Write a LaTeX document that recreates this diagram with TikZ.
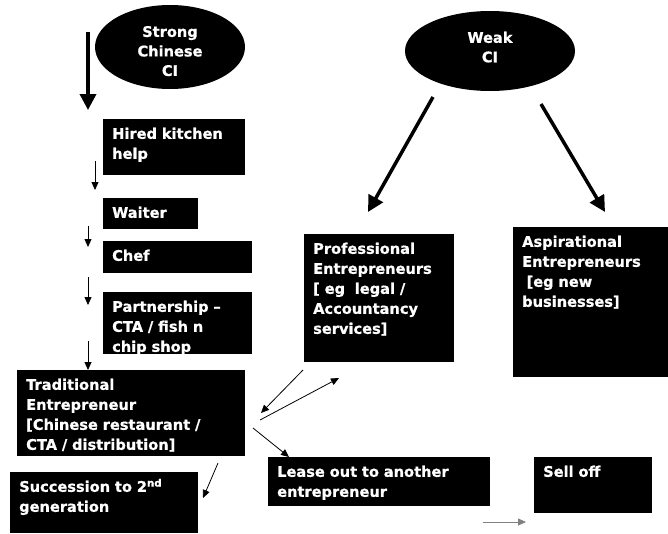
\documentclass[tikz,border=0pt]{standalone}
\usepackage{fontspec}
\setmainfont{DejaVu Sans}[BoldFeatures={FakeBold=0.8}]
\usetikzlibrary{shapes.geometric,arrows.meta}
\tikzset{
  blk/.style={fill=black, text=white, anchor=north west, align=left,
    inner xsep=9pt, inner ysep=0pt, text height=19.6pt,
    font=\bfseries\fontsize{14.6}{20}\selectfont},
  ell/.style={ellipse, fill=black, text=white, align=center, inner sep=0pt,
    font=\bfseries\fontsize{14.6}{19.5}\selectfont},
  bigarr/.style={-{Triangle[length=16pt,width=16pt]}, line width=3.5pt},
  thinarr/.style={-{Triangle[length=8pt,width=7pt]}, line width=0.8pt}
}
\begin{document}
\begin{tikzpicture}[x=1pt, y=-1pt]
    \useasboundingbox (0,0) rectangle (668,533);

    % Ellipses
    \node[ell, minimum width=150pt, minimum height=84pt] (strong) at (170,47) {\rule{0pt}{19pt}Strong\\Chinese\\CI};
    \node[ell, minimum width=170pt, minimum height=80pt] (weak) at (490,51) {Weak\\CI\rule[-8pt]{0pt}{8pt}};

    % Left column
    \node[blk, text width=124pt, text depth=36.4pt] (hired) at (103,119) {Hired kitchen\\help};
    \node[blk, text width=77pt, text depth=11.4pt] (waiter) at (103,198) {Waiter};
    \node[blk, text width=131pt, text depth=12.4pt] (chef) at (103,241) {Chef};
    \node[blk, text width=131pt, text depth=42.4pt] (partner) at (103,292) {Partnership --\\CTA / fish n\\chip shop};
    \node[blk, text width=210pt, text depth=66.4pt] (trad) at (17,370) {Traditional\\Entrepreneur\\{[}Chinese restaurant /\\CTA / distribution]};
    \node[blk, text width=170pt, text depth=41.4pt] (succ) at (10,472) {Succession to 2\textsuperscript{nd}\\generation};

    % Right side
    \node[blk, text width=132pt, text depth=108.4pt] (prof) at (304,234) {Professional\\Entrepreneurs\\{[}~eg~~legal /\\Accountancy\\services]};
    \node[blk, text width=137pt, text depth=130.4pt] (asp) at (513,227) {Aspirational\\Entrepreneurs\\\hspace{0.3em}{[}eg new\\businesses]};
    \node[blk, text width=204pt, text depth=29.4pt] (lease) at (268,457) {Lease out to another\\entrepreneur};
    \node[blk, text width=100pt, text depth=36.4pt] (sell) at (534,457) {Sell off};

    % Arrow end points
    \coordinate (sA) at (88,32);   \coordinate (sB) at (88,110);
    \coordinate (hA) at (95,161);  \coordinate (hB) at (95,190);
    \coordinate (wA) at (88,226);  \coordinate (wB) at (88,247);
    \coordinate (cA) at (88,277);  \coordinate (cB) at (88,305);
    \coordinate (pA) at (88,341);  \coordinate (pB) at (88,370);
    \coordinate (tA) at (218,463); \coordinate (tB) at (203,498);
    \coordinate (fA) at (303,370); \coordinate (fB) at (261,413);
    \coordinate (gA) at (260,420); \coordinate (gB) at (339,378);
    \coordinate (lA) at (253,428); \coordinate (lB) at (289,457);
    \coordinate (oA) at (483,522); \coordinate (oB) at (526,522);
    \coordinate (kA) at (433,97);  \coordinate (kB) at (368,212);
    \coordinate (rA) at (541,104); \coordinate (rB) at (605,212);

    % Arrows
    \draw[bigarr] (sA) -- (sB);
    \draw[bigarr] (kA) -- (kB);
    \draw[bigarr] (rA) -- (rB);
    \draw[thinarr] (hA) -- (hB);
    \draw[thinarr] (wA) -- (wB);
    \draw[thinarr] (cA) -- (cB);
    \draw[thinarr] (pA) -- (pB);
    \draw[thinarr] (tA) -- (tB);
    \draw[thinarr] (fA) -- (fB);
    \draw[thinarr] (gA) -- (gB);
    \draw[thinarr] (lA) -- (lB);
    \draw[thinarr, gray] (oA) -- (oB);
\end{tikzpicture}
\end{document}
